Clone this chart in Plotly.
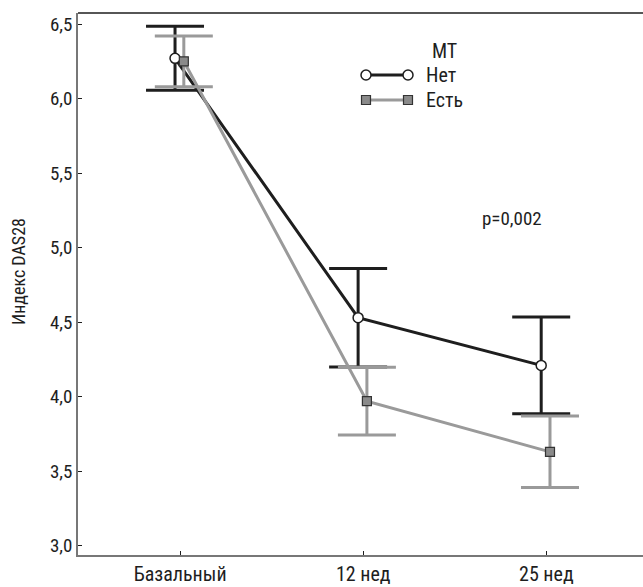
import plotly.graph_objects as go

categories = ["Базальный", "12 нед", "25 нед"]
net_mean = [6.27, 4.53, 4.21]
net_err = [0.215, 0.33, 0.325]
est_mean = [6.25, 3.97, 3.63]
est_err = [0.17, 0.227, 0.24]
y_ticks = [3.0, 3.5, 4.0, 4.5, 5.0, 5.5, 6.0, 6.5]

FONT = "Roboto Condensed, Liberation Sans Narrow, sans-serif"
BLACK = "#1e1e1e"
GRAY = "#9a9a9a"

idx = list(range(len(categories)))
net_x = [i - 0.028 for i in idx]
est_x = [i + 0.02 for i in idx]

fig = go.Figure()
fig.add_trace(go.Scatter(
    x=net_x, y=net_mean, mode="lines+markers", name="Нет",
    line=dict(color=BLACK, width=3),
    marker=dict(symbol="circle", size=10, color="white", line=dict(color=BLACK, width=1.5)),
    error_y=dict(type="data", array=net_err, visible=True, color=BLACK, thickness=3, width=29),
    showlegend=False,
))
fig.add_trace(go.Scatter(
    x=est_x, y=est_mean, mode="lines+markers", name="Есть",
    line=dict(color=GRAY, width=3),
    marker=dict(symbol="square", size=9, color="#8a8a8a", line=dict(color="#333333", width=1.2)),
    error_y=dict(type="data", array=est_err, visible=True, color=GRAY, thickness=3, width=29),
    showlegend=False,
))

W, H = 643, 587
L, R, T, B = 78, 0, 13, 32
pw, ph = W - L - R, H - T - B

def px(xp):
    return (xp - L) / pw

def py(yp):
    return (H - B - yp) / ph

shapes = []
shapes.append(dict(type="line", xref="paper", yref="paper", x0=0, x1=1, y0=1, y1=1,
                   line=dict(color=BLACK, width=1.5)))
for yy, col, sym in [(75, BLACK, "circle"), (100, GRAY, "square")]:
    shapes.append(dict(type="line", xref="paper", yref="paper", x0=px(366), x1=px(408),
                       y0=py(yy), y1=py(yy), line=dict(color=col, width=3)))
    for cx in (366, 408):
        if sym == "circle":
            shapes.append(dict(type="circle", xref="paper", yref="paper",
                               x0=px(cx - 5), x1=px(cx + 5), y0=py(yy + 5), y1=py(yy - 5),
                               fillcolor="white", line=dict(color=BLACK, width=1.5)))
        else:
            shapes.append(dict(type="rect", xref="paper", yref="paper",
                               x0=px(cx - 4.5), x1=px(cx + 4.5), y0=py(yy + 4.5), y1=py(yy - 4.5),
                               fillcolor="#8a8a8a", line=dict(color="#333333", width=1.2)))

annotations = [
    dict(text="МТ", xref="paper", yref="paper", x=px(444), y=py(51), showarrow=False,
         xanchor="center", yanchor="middle", font=dict(family=FONT, size=20, color=BLACK)),
    dict(text="Нет", xref="paper", yref="paper", x=px(424), y=py(75), showarrow=False,
         xanchor="left", yanchor="middle", font=dict(family=FONT, size=20, color=BLACK)),
    dict(text="Есть", xref="paper", yref="paper", x=px(424), y=py(100), showarrow=False,
         xanchor="left", yanchor="middle", font=dict(family=FONT, size=20, color=BLACK)),
    dict(text="p=0,002", xref="paper", yref="paper", x=px(512), y=py(218), showarrow=False,
         xanchor="center", yanchor="middle", font=dict(family=FONT, size=19, color=BLACK)),
    dict(text="Индекс DAS28", xref="paper", yref="paper", x=px(18), y=py(272), showarrow=False,
         textangle=-90, xanchor="center", yanchor="middle",
         font=dict(family=FONT, size=18, color=BLACK)),
]

fig.update_layout(
    width=W, height=H,
    margin=dict(l=L, r=R, t=T, b=B, pad=0),
    paper_bgcolor="white", plot_bgcolor="white",
    separators=", ",
    font=dict(family=FONT, size=19, color=BLACK),
    shapes=shapes, annotations=annotations,
    xaxis=dict(
        range=[-0.558, 2.528], tickmode="array", tickvals=idx, ticktext=categories,
        showgrid=False, zeroline=False, showline=True, linecolor="#777777", linewidth=2,
        ticks="inside", ticklen=4, tickcolor=BLACK, tickwidth=1, automargin=False,
        tickfont=dict(family=FONT, size=20, color=BLACK),
    ),
    yaxis=dict(
        range=[2.938, 6.574], tickmode="array", tickvals=y_ticks,
        tickformat=".1f", automargin=False,
        showgrid=False, zeroline=False, showline=True, linecolor="#777777", linewidth=1.5,
        ticks="inside", ticklen=4, tickcolor=BLACK, tickwidth=1,
        tickfont=dict(family=FONT, size=19, color=BLACK),
    ),
)

fig.write_html("out.html", config={"displayModeBar": False},
               post_script="document.body.style.margin='0';document.body.style.padding='0';")
